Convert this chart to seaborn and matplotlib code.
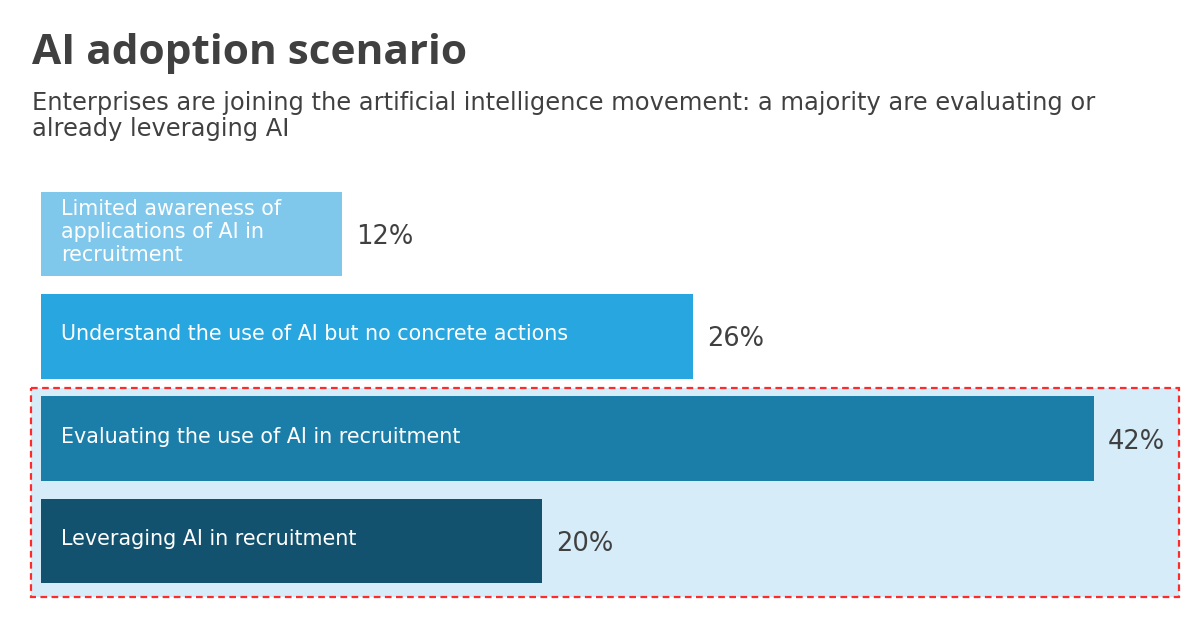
import matplotlib.pyplot as plt
import seaborn as sns
import pandas as pd
from matplotlib.patches import Rectangle

categories = [
    "Limited awareness of\napplications of AI in\nrecruitment",
    "Understand the use of AI but no concrete actions",
    "Evaluating the use of AI in recruitment",
    "Leveraging AI in recruitment",
]
values = [12, 26, 42, 20]
value_labels = ["12%", "26%", "42%", "20%"]
colors = ["#7FC8EC", "#27A6DF", "#1A7EA9", "#12526E"]

title = "AI adoption scenario"
subtitle = ("Enterprises are joining the artificial intelligence movement: a majority are evaluating or\n"
            "already leveraging AI")

sns.set_style("white")
plt.rcParams["font.family"] = ["DejaVu Sans"]

df = pd.DataFrame({"category": categories, "value": values})

fig = plt.figure(figsize=(12, 6.28), dpi=100)
ax = fig.add_axes([0, 0, 1, 1])

# pixel scale: ~25.07 px per percent, bars start at x=41px, rows 102.33px apart
px_per_unit = 25.07
row_px = 102.33
ax.set_xlim(-41 / px_per_unit, (1200 - 41) / px_per_unit)

# highlight box behind the last two bars
box = Rectangle((-10 / px_per_unit, 1.505), (1179 - 31) / px_per_unit, 2.042,
                facecolor="#D6ECF8", edgecolor="#FF2B2B", linestyle=(0, (3, 2)),
                linewidth=1.6, zorder=0)
ax.add_patch(box)

sns.barplot(data=df, x="value", y="category", hue="category", palette=colors,
            orient="h", width=0.83, saturation=1, linewidth=0, legend=False,
            ax=ax, zorder=2)
ax.set_ylim((628 - 234) / row_px, -234 / row_px)

for i, (cat, val, lab) in enumerate(zip(categories, values, value_labels)):
    ax.annotate(cat, xy=(0, i), xytext=(20, 2), textcoords="offset pixels",
                ha="left", va="center", color="white", fontsize=14.9,
                linespacing=1.2, zorder=3)
    ax.annotate(lab, xy=(val, i), xytext=(14, -3), textcoords="offset pixels",
                ha="left", va="center", color="#404040", fontsize=18.5, zorder=3)

ax.axis("off")

fig.text(32 / 1200, 1 - 53 / 628, title, fontsize=30.5, fontweight="bold",
         color="#404040", ha="left", va="center", family="Open Sans")
fig.text(32 / 1200, 1 - 116 / 628, subtitle, fontsize=17.4, color="#404040",
         ha="left", va="center", linespacing=1.15)

fig.savefig("out.png", dpi=100)
